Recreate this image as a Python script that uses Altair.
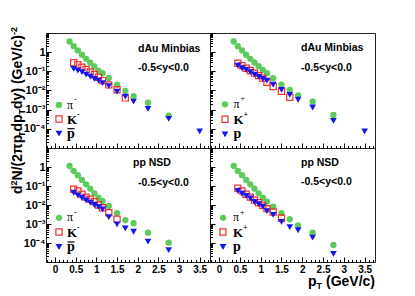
import altair as alt
import pandas as pd

# ---------------- data ----------------
PT_PI = [0.35, 0.45, 0.55, 0.65, 0.75, 0.85, 0.95, 1.05, 1.15, 1.3, 1.5, 1.7, 1.9, 2.25, 2.75]
PT_K_DAU = [0.45, 0.55, 0.65, 0.75, 0.85, 0.95, 1.05, 1.15, 1.3, 1.5, 1.7]
PT_K_PP = [0.45, 0.55, 0.65, 0.75, 0.85, 0.95, 1.05, 1.15, 1.3, 1.5]
PT_P_DAU = [0.45, 0.55, 0.65, 0.75, 0.85, 0.95, 1.05, 1.15, 1.3, 1.5, 1.7, 1.9, 2.25, 2.75, 3.5]
PT_P_PP = [0.45, 0.55, 0.65, 0.75, 0.85, 0.95, 1.05, 1.15, 1.3, 1.5, 1.7, 1.9, 2.25, 2.75]

DAU_PIM = [3.6, 2.06, 1.23, 0.73, 0.45, 0.28, 0.18, 0.11, 0.080, 0.045, 0.020, 0.0096, 0.0050, 0.0023, 0.00049]
DAU_KM = [0.28, 0.22, 0.164, 0.124, 0.092, 0.068, 0.049, 0.033, 0.0196, 0.011, 0.0041]
DAU_PBAR = [0.135, 0.110, 0.090, 0.068, 0.053, 0.040, 0.033, 0.0245, 0.017, 0.0088, 0.0048, 0.0026, 0.0011, 0.00033, 7.3e-5]

DAU_PIP = [3.6, 2.06, 1.23, 0.73, 0.45, 0.29, 0.185, 0.12, 0.080, 0.044, 0.0204, 0.0108, 0.0056, 0.0027, 0.00053]
DAU_KP = [0.265, 0.20, 0.145, 0.11, 0.08, 0.06, 0.044, 0.027, 0.016, 0.0091, 0.0044]
DAU_P = [0.20, 0.145, 0.12, 0.09, 0.068, 0.053, 0.040, 0.033, 0.020, 0.0107, 0.0059, 0.0033, 0.0013, 0.00026, 7.3e-5]

PP_PIM = [1.13, 0.62, 0.37, 0.21, 0.123, 0.072, 0.041, 0.024, 0.016, 0.0089, 0.0037, 0.0016, 0.0011, 0.00035, 0.000104]
PP_KM = [0.067, 0.055, 0.037, 0.026, 0.020, 0.015, 0.010, 0.0072, 0.0039, 0.0018]
PP_PBAR = [0.044, 0.032, 0.024, 0.0177, 0.0132, 0.010, 0.0079, 0.0059, 0.0023, 0.00096, 0.00059, 0.00039, 0.000117, 4.2e-5]

PP_PIP = [1.13, 0.62, 0.37, 0.21, 0.123, 0.072, 0.041, 0.024, 0.015, 0.0082, 0.0037, 0.0018, 0.00085, 0.00035, 7.9e-5]
PP_KP = [0.076, 0.055, 0.037, 0.026, 0.018, 0.0132, 0.0096, 0.0064, 0.0043, 0.002]
PP_P = [0.055, 0.039, 0.030, 0.0225, 0.0144, 0.011, 0.0082, 0.0048, 0.0030, 0.0013, 0.00069, 0.00047, 0.00019, 2.7e-5]

X_MAJOR = [0, 0.5, 1, 1.5, 2, 2.5, 3, 3.5]
Y_LABELED = [1e-4, 1e-3, 1e-2, 1e-1, 1]
Y_DECADES = [1e-5, 1e-4, 1e-3, 1e-2, 1e-1, 1, 10]
SYSTEMS = ["dAu Minbias", "pp NSD"]
RAPIDITY = "-0.5<y<0.0"

# ---------------- style ----------------
GREEN = "#5ccb5c"
RED = "#ee3030"
BLUE = "#1414ee"
SANS = "Liberation Sans"
SERIF = "Liberation Serif"

X_MINOR = [round(-0.2 + 0.1 * i, 2) for i in range(40)]
X_MINOR = [v for v in X_MINOR if abs(v * 2 - round(v * 2)) > 1e-6]
Y_MINOR = [m * d for d in Y_DECADES[:-1] for m in range(2, 10)]

XS = alt.Scale(domain=[-0.22, 3.75], nice=False, zero=False)
YS = alt.Scale(type="log", domain=[1e-5, 10], nice=False)
ONE = alt.Data(values=[{"k": 0}])

Y_LABEL_EXPR = ("datum.value >= 0.5 ? '1' : '10' + "
                "['\u207b\u2074','\u207b\u00b3','\u207b\u00b2','\u207b\u00b9']"
                "[round(log(datum.value)/LN10) + 4]")


def tick_axis(orient, values, size):
    return alt.Axis(orient=orient, values=values, labels=False, ticks=True,
                    tickSize=size, offset=-size, tickColor="black", tickWidth=1,
                    domain=False, grid=False, title=None)


def x_label_axis():
    return alt.Axis(orient="bottom", values=X_MAJOR, format="~g", ticks=False, tickSize=0,
                    domain=False, grid=False, labelPadding=2, labelFont=SANS,
                    labelFontWeight="bold", labelFontSize=10, labelColor="black",
                    labelFlush=False, labelOverlap=False, title=None)


def y_label_axis():
    return alt.Axis(orient="left", values=Y_LABELED, labelExpr=Y_LABEL_EXPR, ticks=False,
                    tickSize=0, domain=False, grid=False, labelPadding=1, labelFont=SANS,
                    labelFontWeight="bold", labelFontSize=11, labelColor="black",
                    labelFlush=False, labelOverlap=False, title=None)


def series(pt, vals, xaxis, yaxis, **mark):
    df = pd.DataFrame({"pt": pt, "v": vals})
    return alt.Chart(df).mark_point(**mark).encode(
        x=alt.X("pt:Q", scale=XS, axis=xaxis),
        y=alt.Y("v:Q", scale=YS, axis=yaxis),
    )


def txt(text, x, y, size, font=SANS, weight="bold", align="left", baseline="middle", angle=None):
    kw = dict(text=text, fontSize=size, font=font, fontWeight=weight, align=align,
              baseline=baseline, color="black")
    if angle is not None:
        kw["angle"] = angle
    return alt.Chart(ONE).mark_text(**kw).encode(x=alt.value(x), y=alt.value(y))


def sym(shape, filled, color, x, y, size):
    return alt.Chart(ONE).mark_point(shape=shape, filled=filled, color=color, size=size,
                                     opacity=1, strokeWidth=1.2).encode(
        x=alt.value(x), y=alt.value(y))


def legend(lx, ys, tx, sign, anti):
    out = [
        sym("circle", True, GREEN, lx, ys[0], 40),
        sym("square", False, RED, lx, ys[1], 38),
        sym("triangle-down", True, BLUE, lx, ys[2], 45),
        txt("\u03c0", tx, ys[0] - 0.5, 12, SERIF, "normal"),
        txt(sign, tx + 7, ys[0] - 5, 8, SERIF, "normal"),
        txt("K", tx, ys[1] + 1, 13, SERIF, "bold"),
        txt(sign, tx + 10, ys[1] - 4, 8, SERIF, "bold"),
        txt("p", tx, ys[2], 14, SERIF, "bold"),
    ]
    if anti:
        out.append(alt.Chart(ONE).mark_rule(color="black", strokeWidth=1.2).encode(
            x=alt.value(tx + 0.5), x2=alt.value(tx + 7.5), y=alt.value(ys[2] - 5)))
    return out


def panel(w, h, pt_k, pt_p, pi, k, p, bottom, left, system, ann, leg, sign, anti, extra):
    layers = [
        series(PT_PI, pi, tick_axis("bottom", X_MAJOR, 5), tick_axis("left", Y_DECADES, 5),
               shape="circle", filled=True, color=GREEN, size=40, opacity=1),
        series(pt_k, k, tick_axis("bottom", X_MINOR, 2.5), tick_axis("left", Y_MINOR, 2.5),
               shape="square", filled=False, color=RED, size=38, strokeWidth=1.2, opacity=1),
        series(pt_p, p, x_label_axis() if bottom else None, y_label_axis() if left else None,
               shape="triangle-down", filled=True, color=BLUE, size=45, opacity=1),
        txt(system, ann[0], ann[1], 10.5),
        txt(RAPIDITY, ann[2], ann[3], 10.5),
    ]
    layers += legend(leg[0], leg[1], leg[2], sign, anti)
    layers += extra
    return alt.layer(*layers).resolve_axis(x="independent", y="independent").properties(
        width=w, height=h)


# y title segments (rotated), placed in top-left panel coordinates
def y_title():
    segs = [("d", 14, 0, 611), ("2", 9, -5, 556), ("N/(2\u03c0p", 14, 0, 3100),
            ("T", 9, 3, 611), ("dp", 14, 0, 1222), ("T", 9, 3, 611),
            ("dy) (GeV/c)", 14, 0, 5279), ("-2", 9, -5, 889)]
    out = []
    y = 161.0
    bx = -24.5
    for text, size, shift, units in segs:
        out.append(txt(text, bx + shift, y, size, SANS, "bold", align="left",
                       baseline="alphabetic", angle=270))
        y -= units * size / 1000.0
    return out


def x_title():
    return [
        txt("(GeV/c)", 165, 138, 14, SANS, "bold", align="right", baseline="alphabetic"),
        txt("T", 112, 141, 9, SANS, "bold", align="right", baseline="alphabetic"),
        txt("p", 106.5, 138, 14, SANS, "bold", align="right", baseline="alphabetic"),
    ]


tl = panel(164, 115, PT_K_DAU, PT_P_DAU, DAU_PIM, DAU_KM, DAU_PBAR, False, True,
           SYSTEMS[0], (92, 15.7, 92, 34.7), (13, (72.0, 86.0, 100.7), 21), "-", True, y_title())
tr = panel(165, 115, PT_K_DAU, PT_P_DAU, DAU_PIP, DAU_KP, DAU_P, False, False,
           SYSTEMS[0], (91, 15.0, 91, 34.7), (15, (71.3, 86.3, 101.3), 23.5), "+", False, [])
bl = panel(164, 114, PT_K_PP, PT_P_PP, PP_PIM, PP_KM, PP_PBAR, True, True,
           SYSTEMS[1], (87, 14.7, 92, 34.7), (13, (69.8, 84.0, 99.0), 21), "-", True, [])
br = panel(165, 114, PT_K_PP, PT_P_PP, PP_PIP, PP_KP, PP_P, True, False,
           SYSTEMS[1], (91, 14.7, 91, 33.7), (13, (69.8, 84.0, 99.0), 23), "+", False, x_title())

chart = alt.concat(tl, tr, bl, br, columns=2, spacing=0, bounds="flush").properties(
    padding={"left": 1, "top": 18, "right": 0, "bottom": 0}
).configure_view(stroke="#222222", strokeWidth=1)

chart.save("out.html", embed_options={"renderer": "svg", "actions": False})
